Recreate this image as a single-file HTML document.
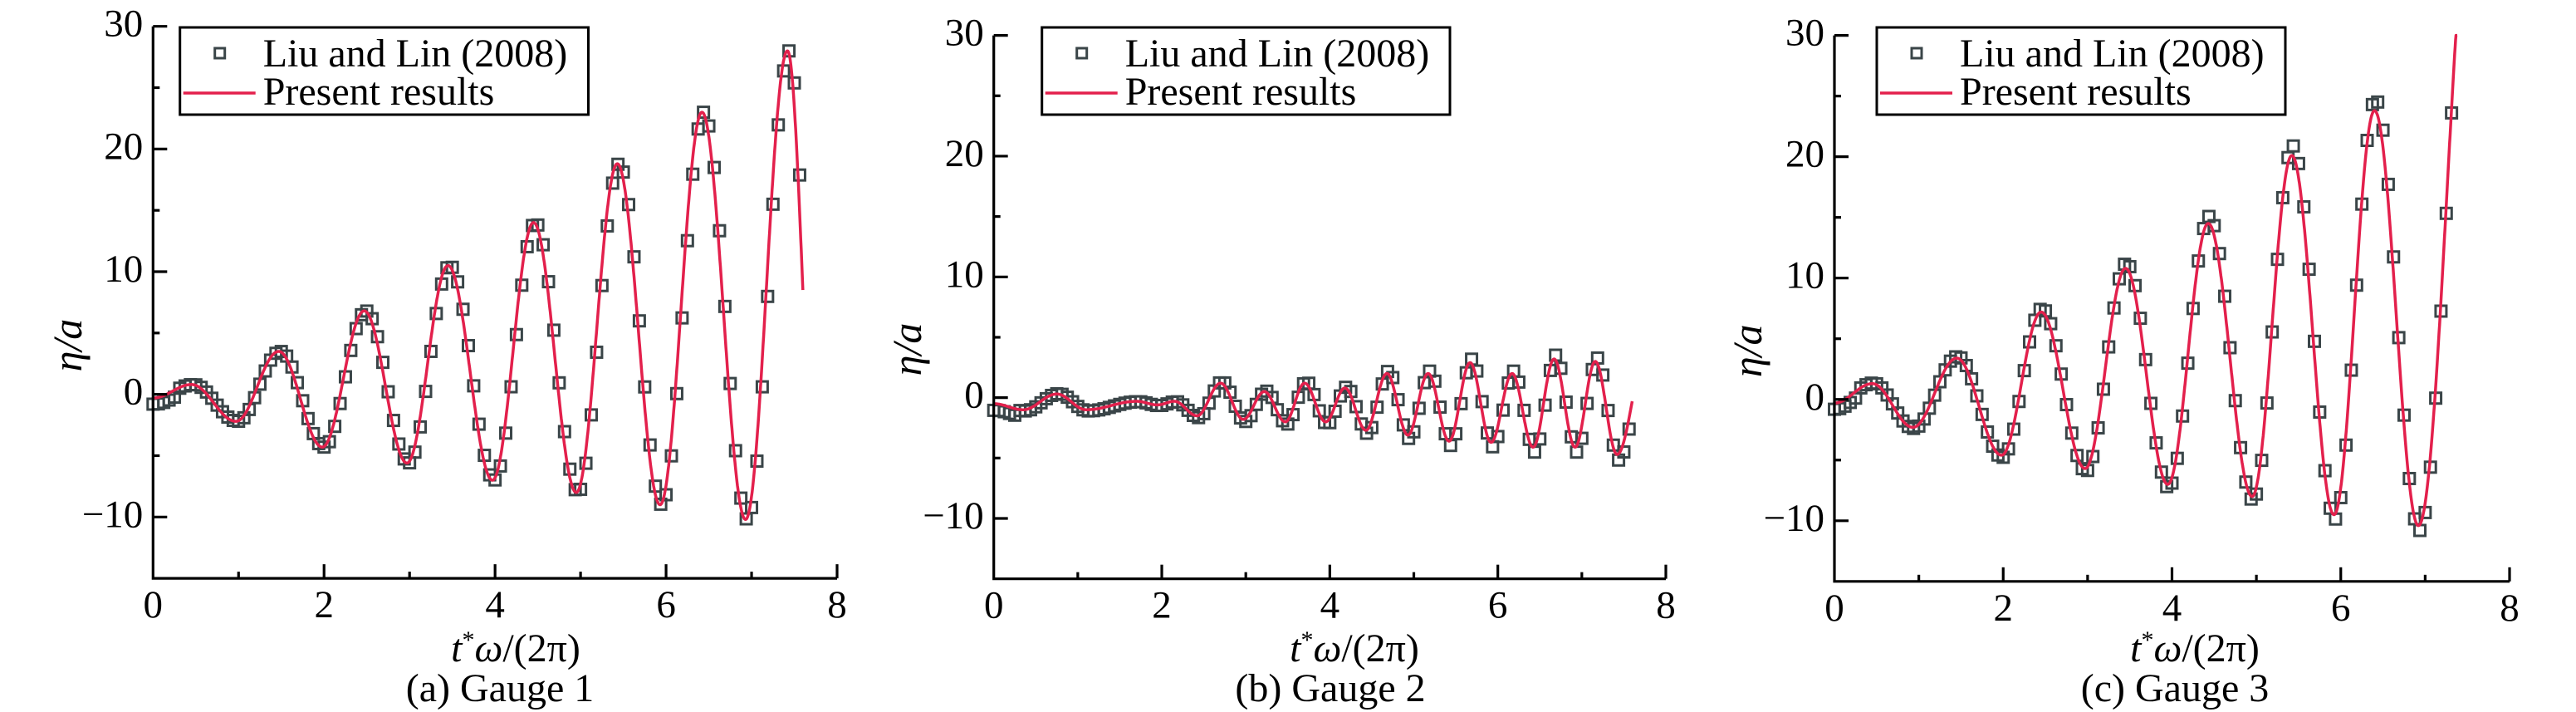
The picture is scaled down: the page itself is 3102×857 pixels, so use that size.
<!DOCTYPE html>
<html><head><meta charset="utf-8">
<style>
html,body{margin:0;padding:0;background:#fff;}
svg{display:block;}
text{font-family:"Liberation Serif","DejaVu Serif",serif;fill:#000;}
</style></head>
<body>
<svg id="s" xmlns="http://www.w3.org/2000/svg" width="3102" height="857" viewBox="0 0 3102 857"></svg>
<script>
const NS="http://www.w3.org/2000/svg";
const svg=document.getElementById('s');
function el(tag,attrs,txt){const e=document.createElementNS(NS,tag);for(const k in attrs)e.setAttribute(k,attrs[k]);if(tag==='text')e.setAttribute('font-family','Liberation Serif, DejaVu Serif, serif');if(txt!==undefined)e.textContent=txt;svg.appendChild(e);return e;}
function curve(ext,t){
  for(let i=0;i<ext.length-1;i++){
    const a=ext[i],b=ext[i+1];
    if(t>=a[0]&&t<=b[0]){const s=(t-a[0])/(b[0]-a[0]);return a[1]+(b[1]-a[1])*(1-Math.cos(Math.PI*s))/2;}
  }
  return ext[ext.length-1][1];
}
const panels=[
 {x0:184.3,x8:1008,y30:31.7,ym10:622.3,leg:[216.7,33,708.5,138],ylab:84,xlab:621,cap:602,capt:"(a) Gauge 1",
  ext:[[0,-0.3],[0.45,0.8],[0.97,-2.2],[1.47,3.5],[1.98,-4.3],[2.47,6.8],[2.97,-5.6],[3.45,10.5],[3.97,-7],[4.45,14],[4.95,-8],[5.43,18.8],[5.93,-9],[6.42,23],[6.93,-10.2],[7.42,28],[7.78,-11]],
  lineEnd:7.6,sqEnd:7.6,lag:0.02,amp:1.0},
 {x0:1196.7,x8:2006,y30:42.6,ym10:624,leg:[1254.7,33,1746,138],ylab:1095,xlab:1631,cap:1602,capt:"(b) Gauge 2",
  ext:[[0,-0.5],[0.35,-1.0],[0.75,0.3],[1.1,-1.0],[1.7,-0.3],[1.95,-0.6],[2.15,-0.3],[2.42,-1.5],[2.7,1.2],[2.97,-1.8],[3.22,0.5],[3.47,-2],[3.7,1.2],[3.95,-2],[4.18,0.8],[4.43,-2.7],[4.68,2],[4.93,-3.1],[5.17,2],[5.42,-3.6],[5.67,2.9],[5.92,-3.7],[6.17,2],[6.42,-4.1],[6.67,3.2],[6.92,-4.1],[7.16,3],[7.42,-4.7],[7.75,3]],
  lineEnd:7.6,sqEnd:7.6,lag:0.02,amp:1.1},
 {x0:2209,x8:3022,y30:42.6,ym10:626.8,leg:[2260,33,2752,138],ylab:2107,xlab:2643,cap:2619,capt:"(c) Gauge 3",
  ext:[[0,-0.3],[0.45,1.3],[0.93,-2.3],[1.45,3.4],[1.98,-4.6],[2.45,7.2],[2.97,-5.7],[3.45,10.8],[3.95,-7.0],[4.43,14.5],[4.95,-8.0],[5.42,20.1],[5.92,-9.5],[6.4,23.8],[6.92,-10.4],[7.6,45]],
  lineEnd:7.38,sqEnd:7.36,lag:0.01,amp:1.04}
];
const RED="#e3204c", SQ="#3a4548";
panels.forEach(p=>{
  const kx=(p.x8-p.x0)/8, ky=(p.ym10-p.y30)/40;
  const X=t=>p.x0+t*kx, Y=v=>p.y30+(30-v)*ky;
  const yb=Y(-15);
  for(let t=0;t<=p.sqEnd+1e-6;t+=0.0625){
    let v=curve(p.ext,Math.max(0,t-p.lag))*p.amp;
    if(t<0.3) v-=0.5;
    el('rect',{x:X(t)-6.5,y:Y(v)-6.5,width:13,height:13,fill:'none',stroke:SQ,'stroke-width':3});
  }
  let d="";
  for(let t=0;t<=p.lineEnd+1e-6;t+=0.005){const v=curve(p.ext,t);d+=(d?"L":"M")+X(t).toFixed(1)+","+Y(Math.min(v,30)).toFixed(1);}
  el('path',{d:d,fill:'none',stroke:RED,'stroke-width':3.5,'stroke-linejoin':'round'});
  el('path',{d:`M${p.x0},${Y(30)}L${p.x0},${yb}L${p.x8},${yb}`,fill:'none',stroke:'#000','stroke-width':3.2});
  for(let i=1;i<=8;i++){const L=(i%2==0)?17:8;el('line',{x1:X(i),y1:yb,x2:X(i),y2:yb-L,stroke:'#000','stroke-width':3.2});}
  for(let i=0;i<=8;i+=2){el('text',{x:X(i),y:yb+47,'font-size':47,'text-anchor':'middle'},String(i));}
  for(let v=-10;v<=30;v+=5){const L=(v%10==0)?17:8;el('line',{x1:p.x0,y1:Y(v),x2:p.x0+L,y2:Y(v),stroke:'#000','stroke-width':3.2});}
  for(let v=-10;v<=30;v+=10){el('text',{x:p.x0-12,y:Y(v)+12,'font-size':47,'text-anchor':'end'},v<0?"\u2212"+Math.abs(v):String(v));}
  const [l,t,r,b]=p.leg;
  el('rect',{x:l,y:t,width:r-l,height:b-t,fill:'#fff',stroke:'#000','stroke-width':3});
  el('rect',{x:l+42,y:t+25,width:12,height:12,fill:'none',stroke:SQ,'stroke-width':3});
  el('line',{x1:l+4,y1:t+79,x2:l+91,y2:t+79,stroke:RED,'stroke-width':3.5});
  el('text',{x:l+100,y:t+47,'font-size':48},"Liu and Lin (2008)");
  el('text',{x:l+100,y:t+93,'font-size':48},"Present results");
  el('text',{x:0,y:0,'font-size':50,'font-style':'italic','text-anchor':'middle',transform:`translate(${p.ylab+14},${Y(4)}) rotate(-90)`},"\u03b7/a");
  const xl=el('text',{x:p.xlab,y:796,'font-size':48,'text-anchor':'middle'});
  xl.innerHTML='<tspan font-style="italic">t</tspan><tspan dy="-16" font-size="30">*</tspan><tspan dy="16" font-style="italic">ω</tspan>/(2π)';
  el('text',{x:p.cap,y:844,'font-size':48,'text-anchor':'middle'},p.capt);
});
</script>
</body></html>
